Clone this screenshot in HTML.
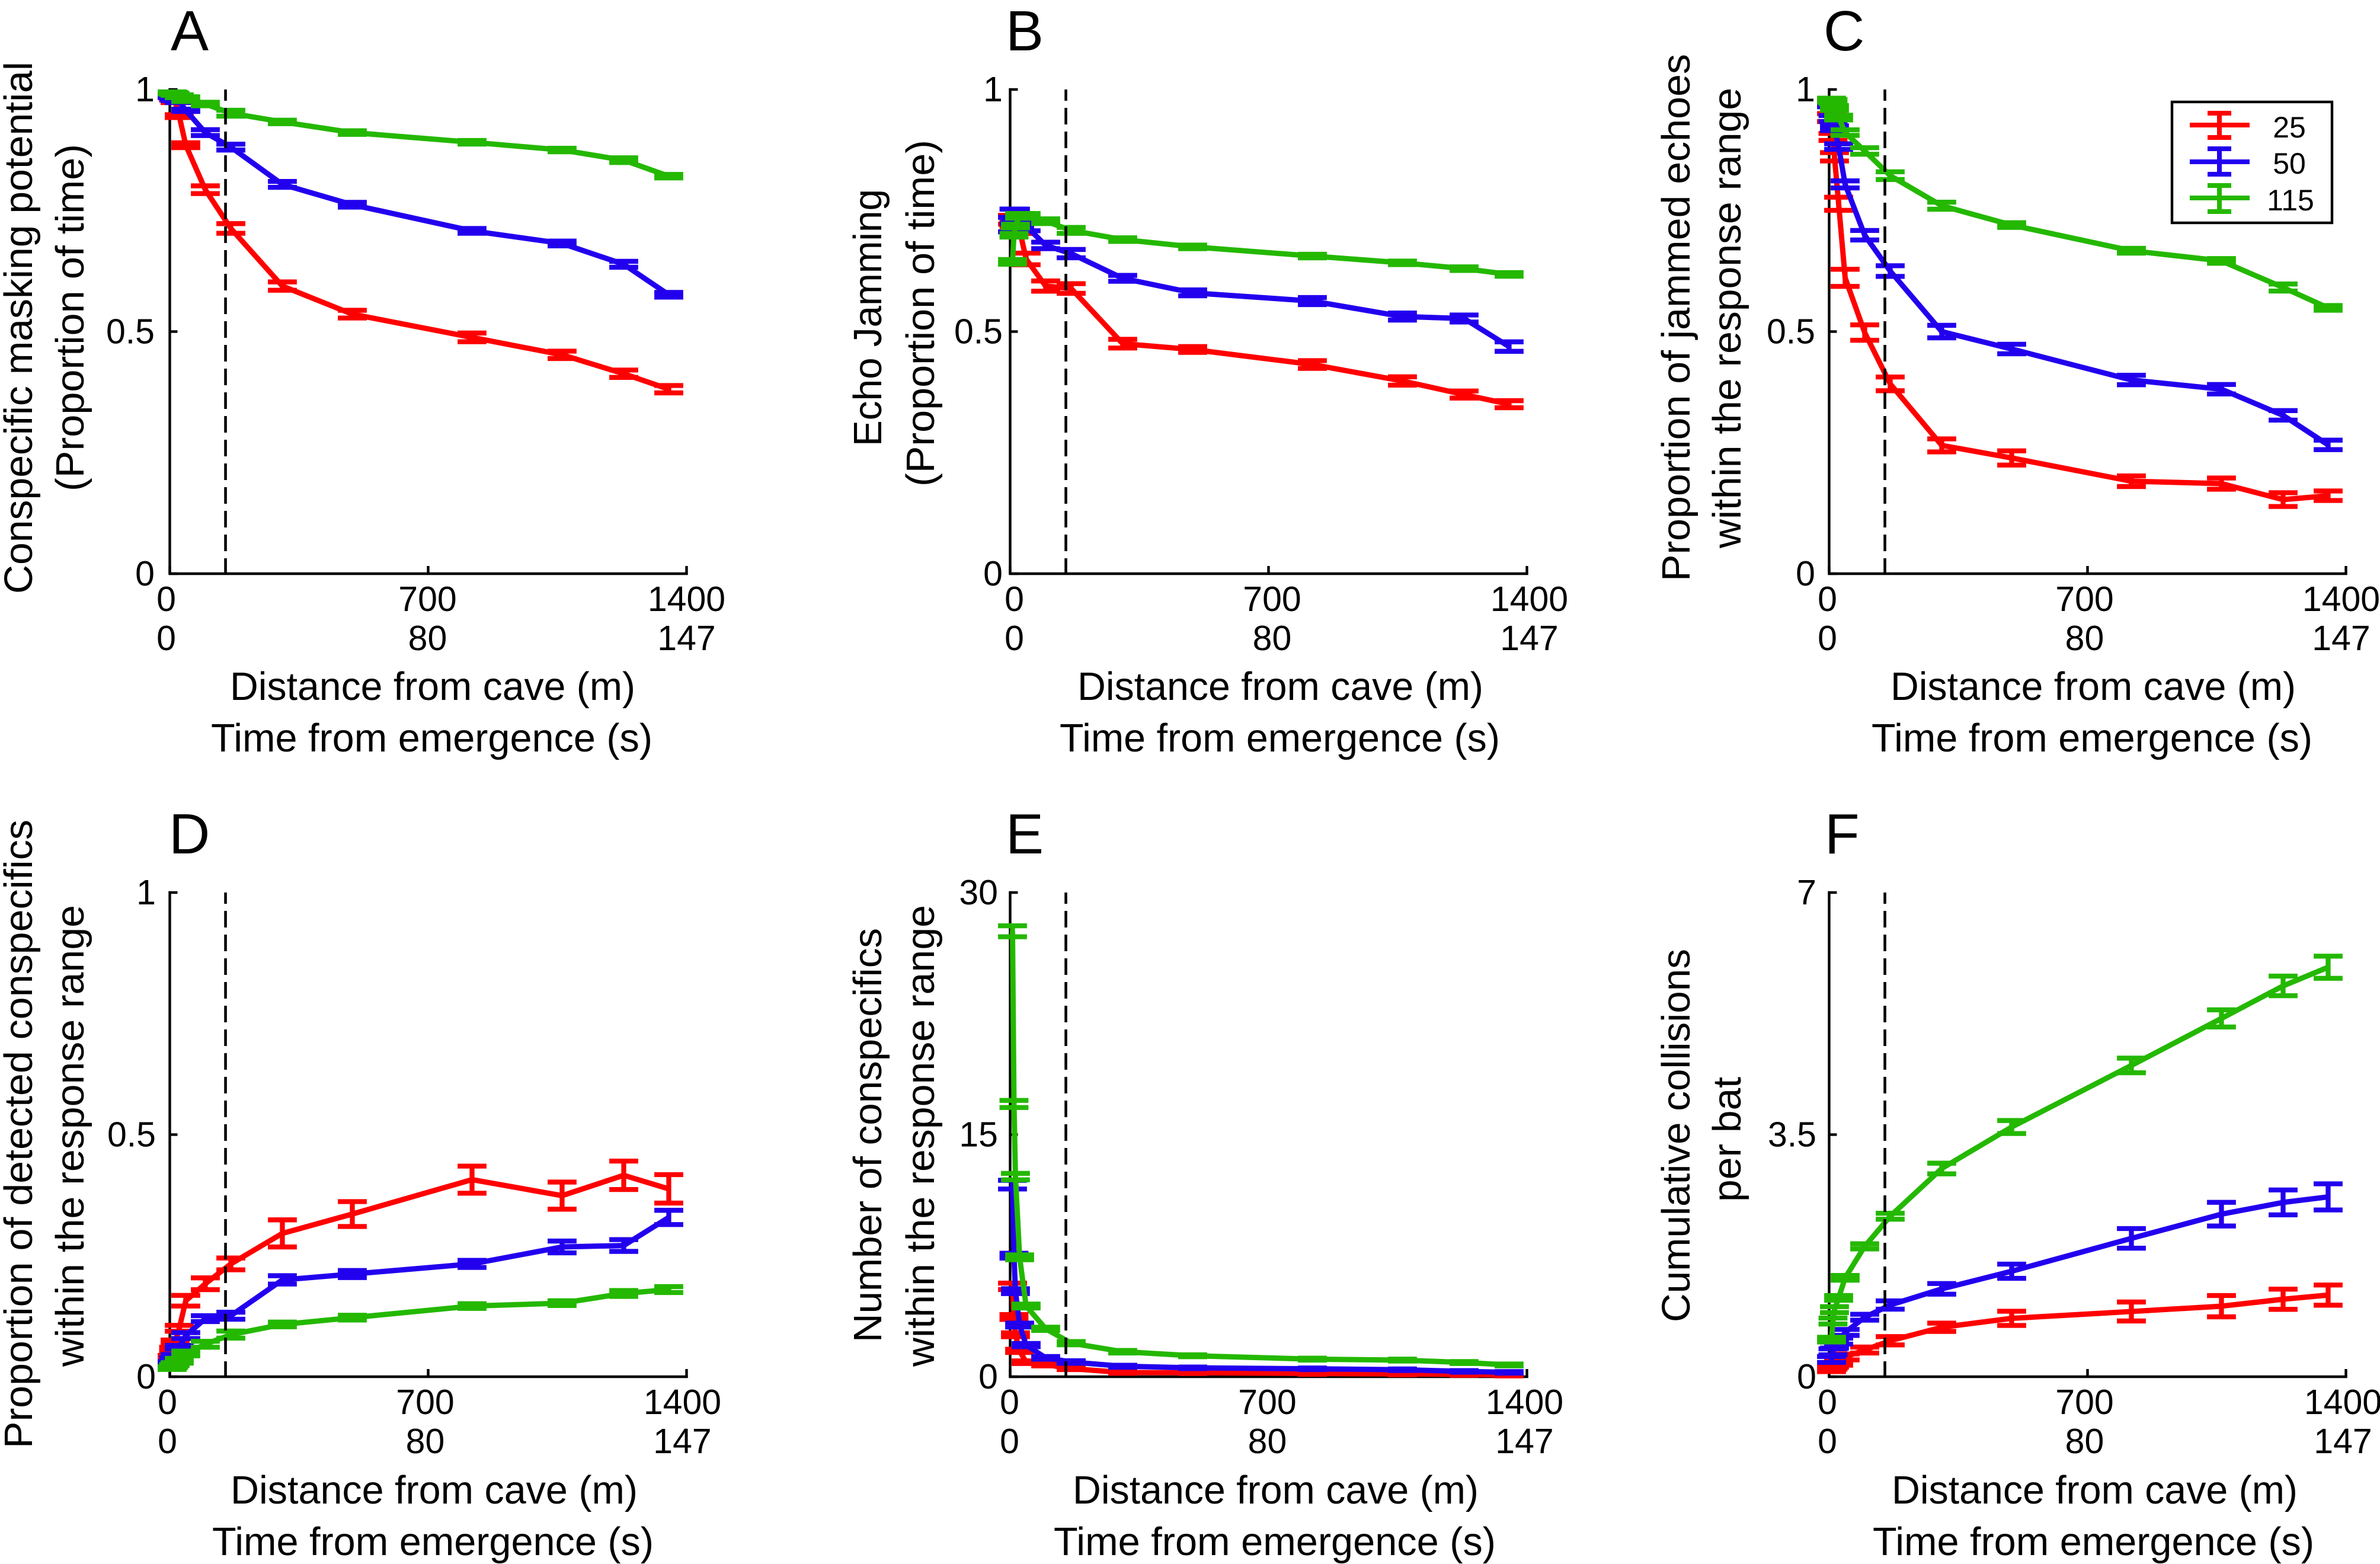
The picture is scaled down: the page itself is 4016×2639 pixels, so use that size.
<!DOCTYPE html>
<html lang="en">
<head>
<meta charset="utf-8">
<title>Bat emergence jamming panels</title>
<style>
html,body{margin:0;padding:0;background:#fff;}
svg{display:block;font-family:"Liberation Sans",sans-serif;fill:#000;}
.t{font-size:67px;}
.l{font-size:96px;}
.k{font-size:59px;}
.g{font-size:50px;}
</style>
</head>
<body>
<svg id="chart" xmlns="http://www.w3.org/2000/svg" width="4016" height="2639" viewBox="0 0 4016 2639">
<rect x="0" y="0" width="4016" height="2639" fill="#fff"/>

<text class="l" x="288" y="85">A</text>
<text class="l" x="1697" y="85">B</text>
<text class="l" x="3077" y="85">C</text>
<text class="l" x="285" y="1440">D</text>
<text class="l" x="1697" y="1440">E</text>
<text class="l" x="3079" y="1440">F</text>

<text class="t" x="54" y="1002" transform="rotate(-90 54 1002)" textLength="898" lengthAdjust="spacingAndGlyphs">Conspecific masking potential</text>
<text class="t" x="141" y="829" transform="rotate(-90 141 829)" textLength="586" lengthAdjust="spacingAndGlyphs">(Proportion of time)</text>
<text class="t" x="1487" y="753" transform="rotate(-90 1487 753)" textLength="434" lengthAdjust="spacingAndGlyphs">Echo Jamming</text>
<text class="t" x="1576" y="821" transform="rotate(-90 1576 821)" textLength="585" lengthAdjust="spacingAndGlyphs">(Proportion of time)</text>
<text class="t" x="2851" y="981" transform="rotate(-90 2851 981)" textLength="890" lengthAdjust="spacingAndGlyphs">Proportion of jammed echoes</text>
<text class="t" x="2937" y="925" transform="rotate(-90 2937 925)" textLength="777" lengthAdjust="spacingAndGlyphs">within the response range</text>
<text class="t" x="54" y="2444" transform="rotate(-90 54 2444)" textLength="1061" lengthAdjust="spacingAndGlyphs">Proportion of detected conspecifics</text>
<text class="t" x="141" y="2306" transform="rotate(-90 141 2306)" textLength="779" lengthAdjust="spacingAndGlyphs">within the response range</text>
<text class="t" x="1487" y="2265" transform="rotate(-90 1487 2265)" textLength="699" lengthAdjust="spacingAndGlyphs">Number of conspecifics</text>
<text class="t" x="1576" y="2306" transform="rotate(-90 1576 2306)" textLength="779" lengthAdjust="spacingAndGlyphs">within the response range</text>
<text class="t" x="2851" y="2231" transform="rotate(-90 2851 2231)" textLength="630" lengthAdjust="spacingAndGlyphs">Cumulative collisions</text>
<text class="t" x="2937" y="2028" transform="rotate(-90 2937 2028)" textLength="211" lengthAdjust="spacingAndGlyphs">per bat</text>

<text class="t" x="388" y="1181" textLength="684" lengthAdjust="spacingAndGlyphs">Distance from cave (m)</text>
<text class="t" x="356" y="1268" textLength="745" lengthAdjust="spacingAndGlyphs">Time from emergence (s)</text>
<text class="t" x="1818" y="1181" textLength="685" lengthAdjust="spacingAndGlyphs">Distance from cave (m)</text>
<text class="t" x="1788" y="1268" textLength="743" lengthAdjust="spacingAndGlyphs">Time from emergence (s)</text>
<text class="t" x="3190" y="1181" textLength="684" lengthAdjust="spacingAndGlyphs">Distance from cave (m)</text>
<text class="t" x="3158" y="1268" textLength="744" lengthAdjust="spacingAndGlyphs">Time from emergence (s)</text>
<text class="t" x="389" y="2537" textLength="687" lengthAdjust="spacingAndGlyphs">Distance from cave (m)</text>
<text class="t" x="358" y="2624" textLength="745" lengthAdjust="spacingAndGlyphs">Time from emergence (s)</text>
<text class="t" x="1810" y="2537" textLength="685" lengthAdjust="spacingAndGlyphs">Distance from cave (m)</text>
<text class="t" x="1778" y="2624" textLength="746" lengthAdjust="spacingAndGlyphs">Time from emergence (s)</text>
<text class="t" x="3192" y="2537" textLength="685" lengthAdjust="spacingAndGlyphs">Distance from cave (m)</text>
<text class="t" x="3160" y="2624" textLength="745" lengthAdjust="spacingAndGlyphs">Time from emergence (s)</text>

<g id="panels"></g>

<g>
  <rect x="3665" y="172" width="270" height="204" fill="#fff" stroke="#000" stroke-width="4.4"/>
  <g stroke="#ff0000" stroke-width="8" fill="none">
    <path d="M3695 211H3796M3745 191V232M3725 191H3765M3725 232H3765"/>
  </g>
  <text class="g" x="3863" y="232" text-anchor="middle">25</text>
  <g stroke="#2200ee" stroke-width="8" fill="none">
    <path d="M3695 273H3796M3745 251V294M3725 251H3765M3725 294H3765"/>
  </g>
  <text class="g" x="3863" y="293" text-anchor="middle">50</text>
  <g stroke="#24b800" stroke-width="8" fill="none">
    <path d="M3695 334H3796M3745 313V357M3725 313H3765M3725 357H3765"/>
  </g>
  <text class="g" x="3865" y="355" text-anchor="middle">115</text>
</g>
</svg>

<script>
// Shared x positions of the samples (metres from cave)
const distances = [6.4, 10.4, 14.4, 25.7, 43.3, 96.3, 165.4, 305, 494.5, 818.8, 1062.8, 1229.8, 1351.8];
const xTickValues = [0, 700, 1400];
const distanceTickLabels = ['0', '700', '1400'];
const timeTickLabels = ['0', '80', '147'];
const responseLine = 151;

// Panel A
const aRed = [0.985, 0.98, 0.975, 0.945, 0.885, 0.793, 0.713, 0.594, 0.536, 0.488, 0.452, 0.413, 0.381];
const aRedErr = [0.002, 0.002, 0.002, 0.003, 0.005, 0.008, 0.01, 0.0086, 0.008, 0.009, 0.0076, 0.0076, 0.0076];
const aBlue = [0.986, 0.982, 0.979, 0.975, 0.957, 0.911, 0.881, 0.804, 0.762, 0.708, 0.682, 0.639, 0.576];
const aBlueErr = [0.002, 0.002, 0.002, 0.002, 0.0024, 0.0061, 0.0061, 0.0061, 0.0049, 0.0049, 0.0049, 0.0061, 0.0049];
const aGreen = [0.993, 0.992, 0.99, 0.986, 0.98, 0.97, 0.951, 0.933, 0.911, 0.891, 0.875, 0.854, 0.821];
const aGreenErr = [0.002, 0.002, 0.002, 0.003, 0.0049, 0.0037, 0.0061, 0.0037, 0.0037, 0.0037, 0.0037, 0.0049, 0.0037];
const aTicks = [0, 0.5, 1];
const aTickLabels = ['0', '0.5', '1'];

// Panel B
const bRed = [0.731, 0.725, 0.72, 0.71, 0.65, 0.594, 0.589, 0.475, 0.463, 0.432, 0.398, 0.37, 0.35];
const bRedErr = [0.009, 0.008, 0.008, 0.0073, 0.012, 0.0106, 0.01, 0.009, 0.006, 0.008, 0.0086, 0.0073, 0.0073];
const bBlue = [0.721, 0.738, 0.743, 0.725, 0.718, 0.678, 0.661, 0.61, 0.58, 0.563, 0.531, 0.527, 0.469];
const bBlueErr = [0.015, 0.015, 0.0098, 0.0073, 0.0098, 0.0067, 0.0086, 0.0061, 0.0061, 0.0073, 0.0073, 0.0073, 0.0098];
const bGreen = [0.644, 0.699, 0.718, 0.739, 0.739, 0.728, 0.709, 0.69, 0.675, 0.656, 0.642, 0.63, 0.618];
const bGreenErr = [0.0049, 0.0037, 0.0037, 0.0049, 0.0049, 0.0049, 0.0061, 0.0037, 0.0037, 0.0037, 0.0037, 0.0037, 0.0037];
const bTicks = [0, 0.5, 1];
const bTickLabels = ['0', '0.5', '1'];

// Panel C
const cRed = [0.942, 0.902, 0.861, 0.764, 0.611, 0.498, 0.392, 0.265, 0.239, 0.191, 0.186, 0.153, 0.161];
const cRedErr = [0.0082, 0.0073, 0.0086, 0.0135, 0.0177, 0.0159, 0.0142, 0.0135, 0.0147, 0.011, 0.0116, 0.0142, 0.0098];
const cBlue = [0.968, 0.94, 0.92, 0.882, 0.804, 0.699, 0.625, 0.5, 0.464, 0.4, 0.381, 0.327, 0.266];
const cBlueErr = [0.0037, 0.0061, 0.0049, 0.0058, 0.0073, 0.0098, 0.011, 0.0129, 0.0098, 0.0098, 0.0098, 0.0098, 0.0098];
const cGreen = [0.978, 0.975, 0.962, 0.942, 0.911, 0.873, 0.822, 0.76, 0.72, 0.667, 0.646, 0.591, 0.549];
const cGreenErr = [0.004, 0.004, 0.0049, 0.0049, 0.0058, 0.0067, 0.008, 0.0073, 0.0049, 0.0049, 0.0049, 0.0073, 0.0049];
const cTicks = [0, 0.5, 1];
const cTickLabels = ['0', '0.5', '1'];

// Panel D
const dRed = [0.04, 0.057, 0.071, 0.1, 0.157, 0.192, 0.233, 0.296, 0.336, 0.407, 0.374, 0.416, 0.388];
const dRedErr = [0.004, 0.004, 0.0049, 0.0061, 0.011, 0.0122, 0.0122, 0.028, 0.0257, 0.028, 0.028, 0.0294, 0.0294];
const dBlue = [0.028, 0.036, 0.043, 0.061, 0.085, 0.12, 0.126, 0.2, 0.212, 0.233, 0.268, 0.271, 0.329];
const dBlueErr = [0.003, 0.003, 0.003, 0.0037, 0.0061, 0.0061, 0.0073, 0.0086, 0.0073, 0.0073, 0.0122, 0.0122, 0.0147];
const dGreen = [0.018, 0.022, 0.026, 0.033, 0.048, 0.067, 0.087, 0.108, 0.122, 0.146, 0.152, 0.172, 0.18];
const dGreenErr = [0.003, 0.003, 0.003, 0.0049, 0.0049, 0.0061, 0.0073, 0.0049, 0.0049, 0.0049, 0.0049, 0.0061, 0.0061];
const dTicks = [0, 0.5, 1];
const dTickLabels = ['0', '0.5', '1'];

// Panel E
const eRed = [5.6, 3.7, 2.6, 1.6, 0.9, 0.75, 0.5, 0.26, 0.25, 0.2, 0.17, 0.14, 0.1];
const eRedErr = [0.2, 0.15, 0.12, 0.1, 0.08, 0.08, 0.06, 0.05, 0.05, 0.05, 0.05, 0.05, 0.05];
const eBlue = [11.9, 7.5, 5.3, 3.2, 1.96, 1.17, 0.91, 0.65, 0.55, 0.49, 0.43, 0.33, 0.27];
const eBlueErr = [0.27, 0.15, 0.15, 0.12, 0.1, 0.08, 0.08, 0.06, 0.05, 0.05, 0.05, 0.05, 0.05];
const eGreen = [27.6, 16.9, 12.4, 7.4, 4.38, 2.97, 2.08, 1.55, 1.3, 1.09, 1.03, 0.88, 0.73];
const eGreenErr = [0.34, 0.22, 0.2, 0.15, 0.12, 0.1, 0.1, 0.08, 0.06, 0.06, 0.06, 0.06, 0.06];
const eTicks = [0, 15, 30];
const eTickLabels = ['0', '15', '30'];

// Panel F
const fRed = [0.108, 0.143, 0.17, 0.2, 0.286, 0.386, 0.52, 0.715, 0.844, 0.943, 1.02, 1.12, 1.18];
const fRedErr = [0.034, 0.034, 0.034, 0.034, 0.043, 0.043, 0.06, 0.06, 0.103, 0.137, 0.154, 0.146, 0.146];
const fBlue = [0.25, 0.36, 0.457, 0.514, 0.64, 0.86, 1.037, 1.27, 1.525, 2.0, 2.35, 2.52, 2.6];
const fBlueErr = [0.043, 0.043, 0.043, 0.043, 0.043, 0.043, 0.06, 0.077, 0.103, 0.142, 0.171, 0.18, 0.189];
const fGreen = [0.537, 0.805, 0.97, 1.14, 1.43, 1.885, 2.32, 3.01, 3.61, 4.5, 5.18, 5.65, 5.92];
const fGreenErr = [0.034, 0.043, 0.043, 0.034, 0.034, 0.037, 0.043, 0.077, 0.094, 0.106, 0.124, 0.142, 0.16];
const fTicks = [0, 3.5, 7];
const fTickLabels = ['0', '3.5', '7'];

// Series styling
const seriesNames = ['25', '50', '115'];
const seriesColors = ['#ff0000', '#2200ee', '#24b800'];

// Panel layout
const panels = [
  {id:'a', x0:286.5,  top:151,  bottom:968,  yMax:1,  ticks:aTicks, labels:aTickLabels, right:261,  shift:[-6,-1,0],
   series:[[aRed,aRedErr],[aBlue,aBlueErr],[aGreen,aGreenErr]]},
  {id:'b', x0:1704.5, top:151,  bottom:968,  yMax:1,  ticks:bTicks, labels:bTickLabels, right:1692, shift:[7,6,4],
   series:[[bRed,bRedErr],[bBlue,bBlueErr],[bGreen,bGreenErr]]},
  {id:'c', x0:3086.5, top:151,  bottom:968,  yMax:1,  ticks:cTicks, labels:cTickLabels, right:3063, shift:[-3,-5,-8],
   series:[[cRed,cRedErr],[cBlue,cBlueErr],[cGreen,cGreenErr]]},
  {id:'d', x0:286.5,  top:1506, bottom:2323, yMax:1,  ticks:dTicks, labels:dTickLabels, right:263,  shift:[-4,-5,-7],
   series:[[dRed,dRedErr],[dBlue,dBlueErr],[dGreen,dGreenErr]]},
  {id:'e', x0:1704.5, top:1506, bottom:2323, yMax:30, ticks:eTicks, labels:eTickLabels, right:1684, shift:[-1,-2,-4],
   series:[[eRed,eRedErr],[eBlue,eBlueErr],[eGreen,eGreenErr]]},
  {id:'f', x0:3086.5, top:1506, bottom:2323, yMax:7,  ticks:fTicks, labels:fTickLabels, right:3065, shift:[-3,-5,-5],
   series:[[fRed,fRedErr],[fBlue,fBlueErr],[fGreen,fGreenErr]]}
];

const NS = 'http://www.w3.org/2000/svg';
const plotWidth = 872;
const xMax = 1400;
const capHalf = 24.4;

function mk(tag, parent, attrs, text) {
  const node = document.createElementNS(NS, tag);
  for (const key in attrs) node.setAttribute(key, attrs[key]);
  if (text !== undefined) node.textContent = text;
  parent.appendChild(node);
  return node;
}

const root = document.getElementById('panels');

panels.forEach(function (p) {
  const xScale = function (v) { return p.x0 + v * plotWidth / xMax; };
  const yScale = function (v) { return p.bottom - v * (p.bottom - p.top) / p.yMax; };

  const panel = mk('g', root, {});
  
  

  const axes = mk('path', panel, {
    d: 'M' + p.x0 + ' ' + p.top + 'V' + p.bottom + 'H' + xScale(xMax),
    fill: 'none', stroke: '#000', 'stroke-width': 4.4, 'stroke-linecap': 'square'
  });
  
  

  p.ticks.forEach(function (t, i) {
    const y = yScale(t);
    const tick = mk('path', panel, {
      d: 'M' + p.x0 + ' ' + y + 'h13', fill: 'none', stroke: '#000', 'stroke-width': 4.4
    });
    
    
    const label = mk('text', panel, {
      class: 'k', x: p.right, y: y + 20, 'text-anchor': 'end'
    }, p.labels[i]);
    
    
  });

  xTickValues.forEach(function (t, i) {
    const x = xScale(t);
    const tick = mk('path', panel, {
      d: 'M' + x + ' ' + p.bottom + 'v-13', fill: 'none', stroke: '#000', 'stroke-width': 4.4
    });
    
    
    const distanceLabel = mk('text', panel, {
      class: 'k', x: x + p.shift[i], y: p.bottom + 63, 'text-anchor': 'middle'
    }, distanceTickLabels[i]);
    
    
    const timeLabel = mk('text', panel, {
      class: 'k', x: x + p.shift[i], y: p.bottom + 129, 'text-anchor': 'middle'
    }, timeTickLabels[i]);
    
    
  });

  p.series.forEach(function (s, si) {
    const values = s[0];
    const errors = s[1];
    const color = seriesColors[si];
    const group = mk('g', panel, { fill: 'none', stroke: color });
    
    

    const points = values.map(function (v, i) { return xScale(distances[i]) + ',' + yScale(v); }).join(' ');
    const line = mk('polyline', group, { points: points, 'stroke-width': 9, 'stroke-linejoin': 'round' });
    
    

    values.forEach(function (v, i) {
      const x = xScale(distances[i]);
      const hi = yScale(v + errors[i]);
      const lo = yScale(v - errors[i]);
      const bar = mk('path', group, {
        d: 'M' + x + ' ' + hi + 'V' + lo +
           'M' + (x - capHalf) + ' ' + hi + 'H' + (x + capHalf) +
           'M' + (x - capHalf) + ' ' + lo + 'H' + (x + capHalf),
        'stroke-width': 8.3
      });
      
      
    });
  });

  const dashed = mk('line', panel, {
    x1: xScale(responseLine), x2: xScale(responseLine), y1: p.top, y2: p.bottom,
    stroke: '#000', 'stroke-width': 4.6, 'stroke-dasharray': '28 12', 'stroke-dashoffset': 9
  });
  
  
});
</script>
</body>
</html>
